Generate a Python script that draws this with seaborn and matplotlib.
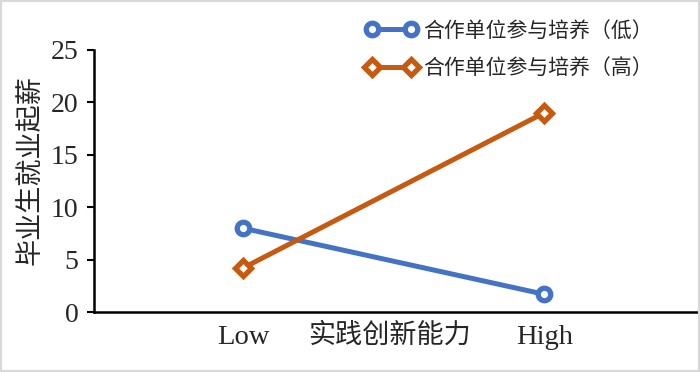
import matplotlib
matplotlib.use("Agg")
import matplotlib.pyplot as plt
import seaborn as sns
import pandas as pd
from matplotlib.patches import Rectangle

categories = ["Low", "High"]
series_names = ["合作单位参与培养（低）", "合作单位参与培养（高）"]
low_values = [8.0, 1.7]
high_values = [4.2, 19.0]
y_ticks = [0, 5, 10, 15, 20, 25]

df = pd.DataFrame({
    "x": list(range(len(categories))) * 2,
    "y": low_values + high_values,
    "group": [series_names[0]] * 2 + [series_names[1]] * 2,
})

sns.set_style("white")
plt.rcParams['font.family'] = ['Liberation Serif', 'Noto Sans CJK SC', 'DejaVu Sans']

fig = plt.figure(figsize=(7, 3.72), dpi=100)
ax = fig.add_axes([0.134, 0.161, 0.863, 0.705])

palette = {series_names[0]: "#4472C4", series_names[1]: "#C55A11"}
markers = {series_names[0]: "o", series_names[1]: "D"}
sns.lineplot(data=df, x="x", y="y", hue="group", style="group",
             palette=palette, markers=markers, dashes=False, ax=ax,
             linewidth=3.6, markersize=9, markerfacecolor="white",
             markeredgewidth=3.8, legend=False)
for line, name in zip(ax.get_lines(), series_names):
    line.set_label(name)
    line.set_markeredgecolor(palette[name])
    if markers[name] == "D":
        line.set_markersize(8.5)

ax.set_xlim(-0.495, 1.51)
ax.set_ylim(0, 25)
ax.set_yticks(y_ticks)
ax.set_yticklabels([str(t) for t in y_ticks], fontsize=20)
ax.set_xticks(range(len(categories)))
ax.set_xticklabels(categories, fontsize=20.5)
ax.tick_params(axis='x', length=0, pad=9)
ax.tick_params(axis='y', length=5, width=1.5, direction='out', color='black', pad=6, left=True)
for s in ["top", "right"]:
    ax.spines[s].set_visible(False)
for s in ["left", "bottom"]:
    ax.spines[s].set_color("black")
    ax.spines[s].set_linewidth(1.8)

ax.set_xlabel("实践创新能力", fontsize=19.5, family=['Noto Sans CJK SC'])
ax.xaxis.set_label_coords(0.49, -0.088)
ax.xaxis.label.set_va('center')
ax.set_ylabel("毕业生就业起薪", fontsize=19.5, family=['Noto Sans CJK SC'])
ax.yaxis.set_label_coords(-0.106, 0.54)
ax.yaxis.label.set_va('center')

leg = fig.legend(loc='upper left', bbox_to_anchor=(0.495, 0.998), frameon=False,
                 prop={'family': 'Noto Sans CJK SC', 'size': 15}, numpoints=2,
                 handlelength=2.5, handletextpad=0.3, labelspacing=0.75)

fig.patches.append(Rectangle((0, 0), 1, 1, transform=fig.transFigure, fill=False,
                             edgecolor="#d9d9d9", linewidth=3, zorder=10))

fig.savefig("out.png", dpi=100)
